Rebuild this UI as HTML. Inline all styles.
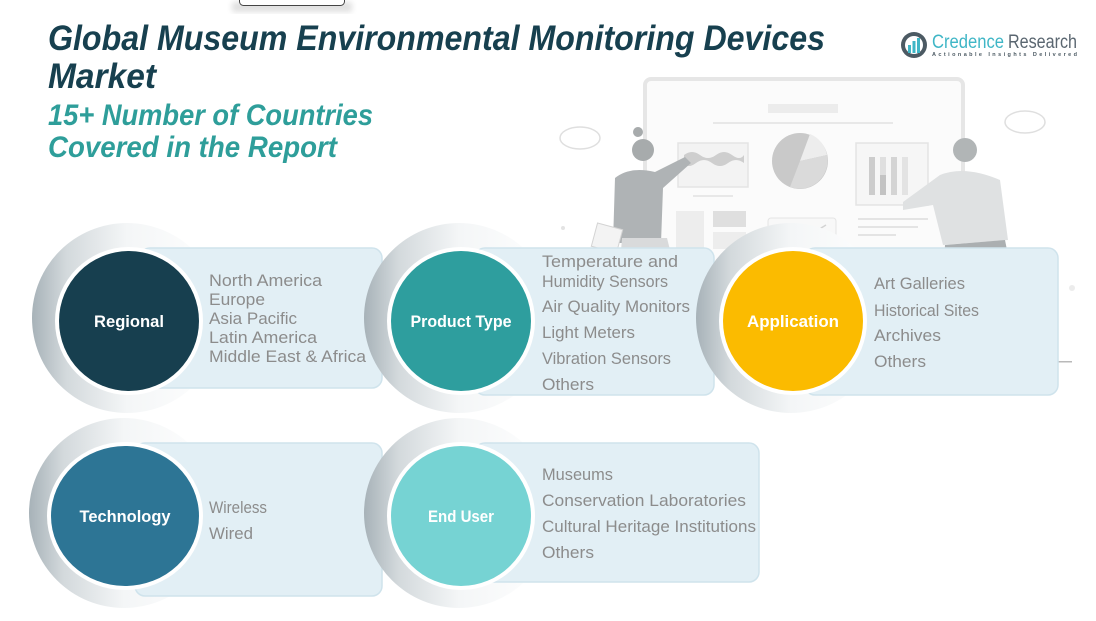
<!DOCTYPE html>
<html><head><meta charset="utf-8"><style>
html,body{margin:0;padding:0;background:#fff;}
svg{display:block;}
text{font-family:"Liberation Sans",sans-serif;}
.li{fill:#8c8c8c;font-size:17px;}
.lb{fill:#fff;font-size:17px;font-weight:bold;text-anchor:middle;}
</style></head><body>
<svg width="1096" height="621" viewBox="0 0 1096 621" xmlns="http://www.w3.org/2000/svg">
<defs>
<linearGradient id="halo" x1="0" y1="0" x2="1" y2="0">
<stop offset="0" stop-color="#a7b2b8"/>
<stop offset="0.18" stop-color="#d3d9dc"/>
<stop offset="0.5" stop-color="#f4f6f7"/>
<stop offset="1" stop-color="#ffffff"/>
</linearGradient>
<filter id="sh" x="-20%" y="-20%" width="140%" height="140%"><feGaussianBlur stdDeviation="3"/></filter>
</defs>

<!-- top tab -->
<rect x="232" y="2" width="120" height="10" fill="#000" opacity="0.12" filter="url(#sh)"/>
<rect x="239.5" y="-8" width="105" height="13.5" rx="4" fill="#fff" stroke="#444" stroke-width="1"/>

<!-- background illustration -->
<g opacity="0.9">
<rect x="645" y="79" width="318" height="200" rx="6" fill="#fbfbfb" stroke="#e4e4e4" stroke-width="4"/>
<rect x="768" y="104" width="70" height="9" fill="#ebebeb"/>
<rect x="713" y="122" width="180" height="2" fill="#e6e6e6"/>
<rect x="678" y="143" width="70" height="44" fill="#f2f2f2" stroke="#e2e2e2" stroke-width="1.5"/>
<path d="M684 155 q8 -6 16 0 t16 0 t16 0 t12 0 l0 8 q-8 -6 -16 0 t-16 0 t-16 0 t-12 0z" fill="#c9c9c9"/>
<rect x="693" y="195" width="40" height="2" fill="#e6e6e6"/>
<circle cx="800" cy="161" r="28" fill="#c4c4c4"/>
<path d="M800 161 L810 134 A28 28 0 0 1 827 155 Z" fill="#ececec"/>
<path d="M800 161 L827 155 A28 28 0 0 1 790 187 Z" fill="#d6d6d6"/>
<rect x="856" y="143" width="72" height="62" fill="#f6f6f6" stroke="#e2e2e2" stroke-width="1.5"/>
<rect x="869" y="157" width="6" height="38" fill="#c7c7c7"/>
<rect x="880" y="157" width="6" height="38" fill="#dcdcdc"/>
<rect x="880" y="175" width="6" height="20" fill="#bdbdbd"/>
<rect x="891" y="157" width="6" height="38" fill="#d0d0d0"/>
<rect x="902" y="157" width="6" height="38" fill="#e0e0e0"/>
<rect x="676" y="211" width="28" height="38" fill="#ececec"/>
<rect x="713" y="211" width="33" height="16" fill="#dcdcdc"/>
<rect x="713" y="232" width="33" height="17" fill="#ececec"/>
<rect x="768" y="218" width="68" height="32" rx="3" fill="#f8f8f8" stroke="#e2e2e2"/>
<polyline points="776,244 786,236 792,240 802,230 808,236 826,225" fill="none" stroke="#cfcfcf" stroke-width="1.5"/>
<rect x="858" y="218" width="70" height="2" fill="#e2e2e2"/>
<rect x="858" y="226" width="60" height="2" fill="#e2e2e2"/>
<rect x="858" y="234" width="38" height="2" fill="#e2e2e2"/>
<!-- speech bubbles -->
<ellipse cx="580" cy="138" rx="20" ry="11" fill="#fff" stroke="#dcdcdc" stroke-width="1.5"/>
<ellipse cx="1025" cy="122" rx="20" ry="11" fill="#fff" stroke="#dcdcdc" stroke-width="1.5"/>
<!-- woman -->
<circle cx="643" cy="150" r="11" fill="#9ea2a4"/>
<circle cx="638" cy="132" r="5" fill="#9ea2a4"/>
<path d="M615 178 q15 -12 40 -6 l30 -15 l6 6 l-28 25 l-2 55 l-48 0 z" fill="#a7abad"/>
<path d="M622 238 l45 0 l10 40 l-58 0 z" fill="#d5d7d8"/>
<rect x="594" y="226" width="26" height="24" fill="#f2f2f2" stroke="#cfcfcf" transform="rotate(15 607 238)"/>
<!-- man -->
<circle cx="965" cy="150" r="12" fill="#a9adaf"/>
<path d="M940 175 q25 -10 60 5 l8 60 l-65 5 l-10 -40 l-30 5 l0 -8 z" fill="#dcdedf"/>
<path d="M945 245 l60 -5 l8 40 l-70 0 z" fill="#a3a7a9"/>
<circle cx="563" cy="228" r="2" fill="#e0e0e0"/>
<circle cx="1072" cy="288" r="3" fill="#eaeaea"/>
</g>

<!-- title -->
<text x="48" y="50" font-size="35" font-weight="bold" font-style="italic" fill="#17404f" textLength="777" lengthAdjust="spacingAndGlyphs">Global Museum Environmental Monitoring Devices</text>
<text x="48" y="88" font-size="35" font-weight="bold" font-style="italic" fill="#17404f" textLength="108" lengthAdjust="spacingAndGlyphs">Market</text>
<text x="48" y="125" font-size="30" font-weight="bold" font-style="italic" fill="#2e9e9a" textLength="325" lengthAdjust="spacingAndGlyphs">15+ Number of Countries</text>
<text x="48" y="157" font-size="30" font-weight="bold" font-style="italic" fill="#2e9e9a" textLength="289" lengthAdjust="spacingAndGlyphs">Covered in the Report</text>

<!-- logo -->
<circle cx="914" cy="45" r="13" fill="#4c5a63"/>
<circle cx="914" cy="45" r="9" fill="#fff"/>
<rect x="908" y="45" width="3" height="8" fill="#3fb6c6"/>
<rect x="912.5" y="41" width="3" height="12" fill="#3fb6c6"/>
<rect x="917" y="38" width="3" height="15" fill="#3fb6c6"/>
<text x="932" y="48" font-size="19" fill="#3fb6c6" textLength="72" lengthAdjust="spacingAndGlyphs">Credence</text>
<text x="1008" y="48" font-size="19" fill="#5a6670" textLength="69" lengthAdjust="spacingAndGlyphs">Research</text>
<text x="932" y="56" font-size="5.5" font-weight="bold" fill="#4c5a63" textLength="145" lengthAdjust="spacing">Actionable Insights Delivered</text>

<!-- Regional -->
<circle cx="127" cy="318" r="95" fill="url(#halo)"/>
<rect x="140" y="248" width="242" height="140" rx="10" fill="#e2eff5" stroke="#cfe3ec" stroke-width="1.5"/>
<circle cx="129" cy="321" r="74" fill="#fff"/>
<circle cx="129" cy="321" r="70" fill="#173f4f"/>
<text class="lb" x="129" y="327" textLength="70" lengthAdjust="spacingAndGlyphs">Regional</text>
<text class="li" x="209" y="286" textLength="113" lengthAdjust="spacingAndGlyphs">North America</text>
<text class="li" x="209" y="305" textLength="56" lengthAdjust="spacingAndGlyphs">Europe</text>
<text class="li" x="209" y="324" textLength="88" lengthAdjust="spacingAndGlyphs">Asia Pacific</text>
<text class="li" x="209" y="343" textLength="108" lengthAdjust="spacingAndGlyphs">Latin America</text>
<text class="li" x="209" y="362" textLength="157" lengthAdjust="spacingAndGlyphs">Middle East &amp; Africa</text>

<!-- Product Type -->
<circle cx="459" cy="318" r="95" fill="url(#halo)"/>
<rect x="475" y="248" width="239" height="147" rx="10" fill="#e2eff5" stroke="#cfe3ec" stroke-width="1.5"/>
<circle cx="461" cy="321" r="74" fill="#fff"/>
<circle cx="461" cy="321" r="70" fill="#2e9e9e"/>
<text class="lb" x="461" y="327" textLength="101" lengthAdjust="spacingAndGlyphs">Product Type</text>
<text class="li" x="542" y="267" textLength="136" lengthAdjust="spacingAndGlyphs">Temperature and</text>
<text class="li" x="542" y="287" textLength="126" lengthAdjust="spacingAndGlyphs">Humidity Sensors</text>
<text class="li" x="542" y="312" textLength="148" lengthAdjust="spacingAndGlyphs">Air Quality Monitors</text>
<text class="li" x="542" y="338" textLength="93" lengthAdjust="spacingAndGlyphs">Light Meters</text>
<text class="li" x="542" y="364" textLength="129" lengthAdjust="spacingAndGlyphs">Vibration Sensors</text>
<text class="li" x="542" y="390" textLength="52" lengthAdjust="spacingAndGlyphs">Others</text>

<!-- Application -->
<rect x="715" y="361" width="20" height="1.5" fill="#b9b9b9"/>
<rect x="1058" y="361" width="14" height="1.5" fill="#b9b9b9"/>
<circle cx="791" cy="318" r="95" fill="url(#halo)"/>
<rect x="805" y="248" width="253" height="147" rx="10" fill="#e2eff5" stroke="#cfe3ec" stroke-width="1.5"/>
<circle cx="793" cy="321" r="74" fill="#fff"/>
<circle cx="793" cy="321" r="70" fill="#fbbb00"/>
<text class="lb" x="793" y="327" textLength="92" lengthAdjust="spacingAndGlyphs">Application</text>
<text class="li" x="874" y="289" textLength="91" lengthAdjust="spacingAndGlyphs">Art Galleries</text>
<text class="li" x="874" y="316" textLength="105" lengthAdjust="spacingAndGlyphs">Historical Sites</text>
<text class="li" x="874" y="341" textLength="67" lengthAdjust="spacingAndGlyphs">Archives</text>
<text class="li" x="874" y="367" textLength="52" lengthAdjust="spacingAndGlyphs">Others</text>

<!-- Technology -->
<circle cx="124" cy="513" r="95" fill="url(#halo)"/>
<rect x="135" y="443" width="247" height="153" rx="10" fill="#e2eff5" stroke="#cfe3ec" stroke-width="1.5"/>
<ellipse cx="125" cy="516" rx="78" ry="74" fill="#fff"/>
<ellipse cx="125" cy="516" rx="74" ry="70" fill="#2d7595"/>
<text class="lb" x="125" y="522" textLength="91" lengthAdjust="spacingAndGlyphs">Technology</text>
<text class="li" x="209" y="513" textLength="58" lengthAdjust="spacingAndGlyphs">Wireless</text>
<text class="li" x="209" y="539" textLength="44" lengthAdjust="spacingAndGlyphs">Wired</text>

<!-- End User -->
<circle cx="459" cy="513" r="95" fill="url(#halo)"/>
<rect x="475" y="443" width="284" height="139" rx="10" fill="#e2eff5" stroke="#cfe3ec" stroke-width="1.5"/>
<circle cx="461" cy="516" r="74" fill="#fff"/>
<circle cx="461" cy="516" r="70" fill="#76d3d3"/>
<text class="lb" x="461" y="522" textLength="66" lengthAdjust="spacingAndGlyphs">End User</text>
<text class="li" x="542" y="480" textLength="71" lengthAdjust="spacingAndGlyphs">Museums</text>
<text class="li" x="542" y="506" textLength="204" lengthAdjust="spacingAndGlyphs">Conservation Laboratories</text>
<text class="li" x="542" y="532" textLength="214" lengthAdjust="spacingAndGlyphs">Cultural Heritage Institutions</text>
<text class="li" x="542" y="558" textLength="52" lengthAdjust="spacingAndGlyphs">Others</text>
</svg>
</body></html>
